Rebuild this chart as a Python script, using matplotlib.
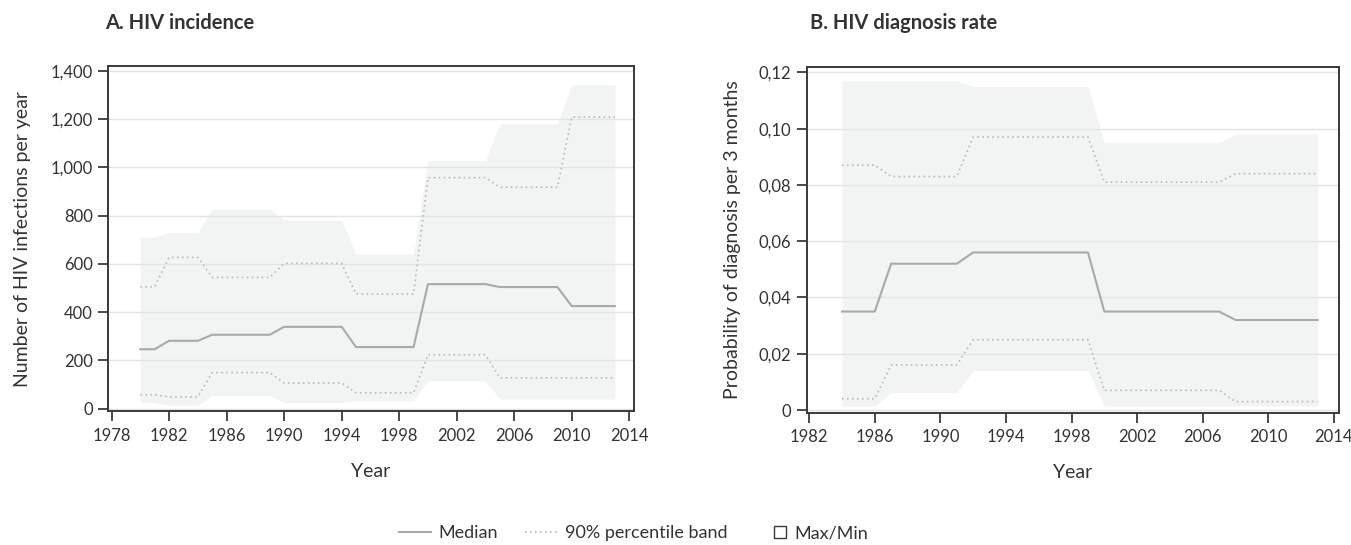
import matplotlib
matplotlib.use("Agg")
from matplotlib import pyplot as plt
from matplotlib.lines import Line2D
from matplotlib.patches import Patch, Rectangle
from matplotlib.legend_handler import HandlerPatch
from matplotlib.ticker import FuncFormatter

# Panel A: HIV incidence, yearly values 1980-2013
years_A = [1980, 1981, 1982, 1983, 1984, 1985, 1986, 1987, 1988, 1989,
           1990, 1991, 1992, 1993, 1994, 1995, 1996, 1997, 1998, 1999,
           2000, 2001, 2002, 2003, 2004, 2005, 2006, 2007, 2008, 2009,
           2010, 2011, 2012, 2013]
median_A = [246, 246, 281, 281, 281, 306, 306, 306, 306, 306,
            339, 339, 339, 339, 339, 255, 255, 255, 255, 255,
            516, 516, 516, 516, 516, 504, 504, 504, 504, 504,
            425, 425, 425, 425]
upper90_A = [505, 505, 627, 627, 627, 544, 544, 544, 544, 544,
             602, 602, 602, 602, 602, 475, 475, 475, 475, 475,
             958, 958, 958, 958, 958, 918, 918, 918, 918, 918,
             1209, 1209, 1209, 1209]
lower90_A = [57, 57, 48, 48, 48, 149, 149, 149, 149, 149,
             106, 106, 106, 106, 106, 65, 65, 65, 65, 65,
             223, 223, 223, 223, 223, 127, 127, 127, 127, 127,
             127, 127, 127, 127]
max_A = [710, 710, 730, 730, 730, 827, 827, 827, 827, 827,
         782, 782, 782, 782, 782, 641, 641, 641, 641, 641,
         1029, 1029, 1029, 1029, 1029, 1181, 1181, 1181, 1181, 1181,
         1343, 1343, 1343, 1343]
min_A = [27, 24, 14, 14, 14, 54, 54, 54, 54, 54,
         25, 25, 25, 25, 25, 32, 32, 32, 32, 32,
         115, 115, 115, 115, 115, 39, 39, 39, 39, 39,
         39, 39, 39, 39]

# Panel B: HIV diagnosis rate, yearly values 1984-2013
years_B = [1984, 1985, 1986, 1987, 1988, 1989, 1990, 1991, 1992, 1993,
           1994, 1995, 1996, 1997, 1998, 1999, 2000, 2001, 2002, 2003,
           2004, 2005, 2006, 2007, 2008, 2009, 2010, 2011, 2012, 2013]
median_B = [0.035, 0.035, 0.035, 0.052, 0.052, 0.052, 0.052, 0.052,
            0.056, 0.056, 0.056, 0.056, 0.056, 0.056, 0.056, 0.056,
            0.035, 0.035, 0.035, 0.035, 0.035, 0.035, 0.035, 0.035,
            0.032, 0.032, 0.032, 0.032, 0.032, 0.032]
upper90_B = [0.087, 0.087, 0.087, 0.083, 0.083, 0.083, 0.083, 0.083,
             0.097, 0.097, 0.097, 0.097, 0.097, 0.097, 0.097, 0.097,
             0.081, 0.081, 0.081, 0.081, 0.081, 0.081, 0.081, 0.081,
             0.084, 0.084, 0.084, 0.084, 0.084, 0.084]
lower90_B = [0.004, 0.004, 0.004, 0.016, 0.016, 0.016, 0.016, 0.016,
             0.025, 0.025, 0.025, 0.025, 0.025, 0.025, 0.025, 0.025,
             0.007, 0.007, 0.007, 0.007, 0.007, 0.007, 0.007, 0.007,
             0.003, 0.003, 0.003, 0.003, 0.003, 0.003]
max_B = [0.117, 0.117, 0.117, 0.117, 0.117, 0.117, 0.117, 0.117,
         0.115, 0.115, 0.115, 0.115, 0.115, 0.115, 0.115, 0.115,
         0.095, 0.095, 0.095, 0.095, 0.095, 0.095, 0.095, 0.095,
         0.098, 0.098, 0.098, 0.098, 0.098, 0.098]
min_B = [0.0014, 0.0014, 0.0014, 0.0062, 0.0062, 0.0062, 0.0062, 0.0062,
         0.0141, 0.0141, 0.0141, 0.0141, 0.0141, 0.0141, 0.0141, 0.0141,
         0.0014, 0.0014, 0.0014, 0.0014, 0.0014, 0.0014, 0.0014, 0.0014,
         0.0014, 0.0014, 0.0014, 0.0014, 0.0014, 0.0014]

ticks_xA = [1978, 1982, 1986, 1990, 1994, 1998, 2002, 2006, 2010, 2014]
ticks_yA = [0, 200, 400, 600, 800, 1000, 1200, 1400]
ticks_xB = [1982, 1986, 1990, 1994, 1998, 2002, 2006, 2010, 2014]
ticks_yB = [0, 0.02, 0.04, 0.06, 0.08, 0.10, 0.12]

plt.rcParams['font.family'] = ['Lato', 'DejaVu Sans']

color_text = '#333333'
color_median = '#a9a9a9'
color_band = '#b8b8b8'
color_fill = '#f2f4f4'
color_grid = '#e3e3e3'
color_frame = '#3a3a3a'

fig = plt.figure(figsize=(13.51, 5.45), dpi=100)
axA = fig.add_axes([0.080, 0.246, 0.389, 0.632])
axB = fig.add_axes([0.597, 0.243, 0.394, 0.634])


def style_axis(ax):
    for spine in ax.spines.values():
        spine.set_color(color_frame)
        spine.set_linewidth(1.4)
    ax.yaxis.grid(True, color=color_grid, linewidth=1.0)
    ax.xaxis.grid(False)
    ax.tick_params(axis='both', colors=color_frame, labelcolor=color_text,
                   labelsize=12, length=7, width=1.3)
    ax.tick_params(axis='y', pad=4)
    ax.tick_params(axis='x', pad=5)
    ax.set_xlabel('Year', fontsize=14, color=color_text)


# Panel A
axA.fill_between(years_A, min_A, max_A, color=color_fill, linewidth=0, zorder=1)
axA.plot(years_A, upper90_A, color=color_band, linewidth=1.2, linestyle=(0, (1, 2)), zorder=2)
axA.plot(years_A, lower90_A, color=color_band, linewidth=1.2, linestyle=(0, (1, 2)), zorder=2)
axA.plot(years_A, median_A, color=color_median, linewidth=1.5, zorder=3)
axA.set_xlim(1977.76, 2014.3)
axA.set_ylim(-10, 1419)
axA.set_xticks(ticks_xA)
axA.set_yticks(ticks_yA)
axA.yaxis.set_major_formatter(FuncFormatter(lambda v, p: f'{int(v):,}'))
style_axis(axA)
axA.set_ylabel('Number of HIV infections per year', fontsize=14, color=color_text)
axA.yaxis.set_label_coords(-0.147, 0.5)
axA.xaxis.set_label_coords(0.5, -0.15)

# Panel B
axB.fill_between(years_B, min_B, max_B, color=color_fill, linewidth=0, zorder=1)
axB.plot(years_B, upper90_B, color=color_band, linewidth=1.2, linestyle=(0, (1, 2)), zorder=2)
axB.plot(years_B, lower90_B, color=color_band, linewidth=1.2, linestyle=(0, (1, 2)), zorder=2)
axB.plot(years_B, median_B, color=color_median, linewidth=1.5, zorder=3)
axB.set_xlim(1981.84, 2014.3)
axB.set_ylim(-0.0009, 0.1219)
axB.set_xticks(ticks_xB)
axB.set_yticks(ticks_yB)
axB.yaxis.set_major_formatter(FuncFormatter(lambda v, p: '0' if abs(v) < 1e-9 else f'{v:.2f}'.replace('.', ',')))
style_axis(axB)
axB.set_ylabel('Probability of diagnosis per 3 months', fontsize=14, color=color_text)
axB.yaxis.set_label_coords(-0.123, 0.5)
axB.xaxis.set_label_coords(0.5, -0.15)

# Panel titles
fig.text(105 / 1351, 1 - 23 / 545, 'A. HIV incidence', fontsize=14.5, fontweight='bold',
         color=color_text, va='center', ha='left')
fig.text(810 / 1351, 1 - 23 / 545, 'B. HIV diagnosis rate', fontsize=14.5, fontweight='bold',
         color=color_text, va='center', ha='left')


# Small open square drawn at the right end of the handle box, next to its label
def square_at_right(legend, orig_handle, xdescent, ydescent, width, height, fontsize):
    side = 0.68 * fontsize
    return Rectangle((width - side - xdescent, (height - side) / 2 - ydescent), side, side)


handles = [
    Line2D([], [], color=color_median, linewidth=1.5),
    Line2D([], [], color=color_band, linewidth=1.2, linestyle=(0, (1, 2))),
    Patch(facecolor='white', edgecolor=color_frame, linewidth=1.0),
]
labels = ['Median', '90% percentile band', 'Max/Min']
fig.legend(handles, labels, loc='center', bbox_to_anchor=(0.469, 0.022), ncol=3,
           frameon=False, fontsize=13, handlelength=1.75, columnspacing=1.5,
           handletextpad=0.45, labelcolor=color_text,
           handler_map={Patch: HandlerPatch(patch_func=square_at_right)})

fig.savefig('out.png', dpi=100)
